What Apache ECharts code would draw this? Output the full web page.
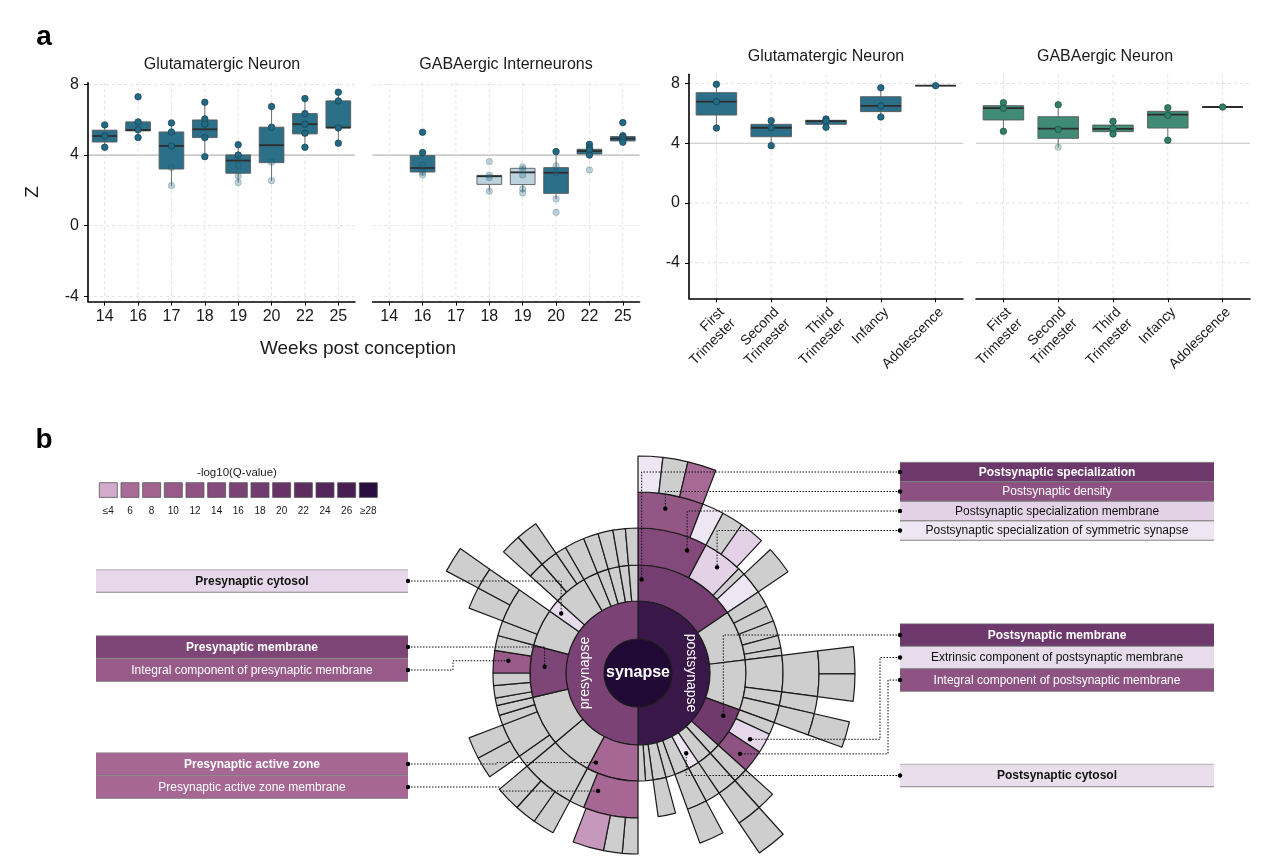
<!DOCTYPE html>
<html>
<head>
<meta charset="utf-8">
<script src="https://cdn.jsdelivr.net/npm/echarts/dist/echarts.min.js"></script>
<style>html,body{margin:0;padding:0;background:#fff}#c{width:1270px;height:863px}</style>
</head>
<body>
<div id="c"></div>
<script>
// ================= DATA: panel a =================
const weeks = ['14', '16', '17', '18', '19', '20', '22', '25'];
// [min, Q1, median, Q3, max]
const glutWeekBox = [
  [4.44, 4.74, 5.08, 5.41, 5.71],
  [4.99, 5.37, 5.42, 5.88, 5.88],
  [2.27, 3.21, 4.52, 5.31, 5.82],
  [3.91, 4.99, 5.46, 5.99, 6.99],
  [2.44, 2.97, 3.69, 4.01, 4.59],
  [2.55, 3.57, 4.56, 5.58, 6.75],
  [4.44, 5.20, 5.75, 6.35, 7.20],
  [4.67, 5.54, 5.56, 7.07, 7.56]
];
const glutWeekPts = [
  [5.71, 5.08, 4.44],
  [7.30, 5.88, 5.43, 4.99],
  [5.82, 5.31, 4.52, 3.29, 2.27],
  [6.99, 6.05, 5.75, 4.99, 3.91],
  [4.59, 4.00, 3.42, 2.82, 2.44],
  [6.75, 5.58, 3.59, 2.55],
  [7.20, 6.35, 5.75, 5.24, 4.44],
  [7.56, 7.07, 5.54, 4.67]
];
const gabaWeekBox = [
  null,
  [2.87, 3.04, 3.27, 3.97, 4.14],
  null,
  [1.95, 2.34, 2.80, 2.85, 2.85],
  [1.93, 2.33, 3.02, 3.25, 3.33],
  [1.51, 1.83, 3.00, 3.29, 4.20],
  [4.00, 4.06, 4.23, 4.33, 4.61],
  [4.73, 4.80, 4.93, 5.05, 5.10]
];
const gabaWeekPts = [
  [],
  [5.29, 4.14, 3.42, 3.02, 2.87],
  [],
  [3.63, 2.87, 2.72, 1.95],
  [3.33, 3.21, 2.87, 2.08, 1.85],
  [4.20, 3.38, 3.00, 1.51, 0.76],
  [4.61, 4.42, 4.29, 4.00, 3.16],
  [5.84, 5.10, 4.99, 4.86, 4.73]
];
const gabaWeekLight = [0, 0, 0, 1, 1, 0, 0, 0];

const stages = ['First\nTrimester', 'Second\nTrimester', 'Third\nTrimester', 'Infancy', 'Adolescence'];
const glutStageBox = [
  [5.02, 5.89, 6.79, 7.39, 7.95],
  [3.84, 4.44, 5.04, 5.27, 5.51],
  [5.07, 5.27, 5.49, 5.54, 5.63],
  [5.76, 6.12, 6.50, 7.12, 7.72],
  [7.86, 7.86, 7.86, 7.86, 7.86]
];
const glutStagePts = [
  [7.95, 6.79, 5.02],
  [5.51, 5.04, 3.84],
  [5.63, 5.49, 5.07],
  [7.72, 6.50, 5.76],
  [7.86]
];
const gabaStageBox = [
  [4.80, 5.56, 6.36, 6.52, 6.72],
  [3.73, 4.33, 4.98, 5.78, 6.58],
  [4.62, 4.78, 4.96, 5.22, 5.47],
  [4.20, 5.02, 5.92, 6.14, 6.38],
  [6.43, 6.43, 6.43, 6.43, 6.43]
];
const gabaStagePts = [
  [6.72, 6.34, 4.80],
  [6.58, 4.93, 3.73],
  [5.47, 5.00, 4.62],
  [6.38, 5.87, 4.20],
  [6.43]
];
const zTicks = [-4, 0, 4, 8];
const zRef = 4;

// ================= DATA: panel b (sunburst) =================
const sbName = [
  'synapse', 'postsynapse', 'Postsynaptic specialization', 'Postsynaptic specialization membrane', 'Postsynaptic density', '', '', '', '',
  'Postsynaptic specialization of symmetric synapse', '', '', '', '', '',
  '', '', '', '', '', '',
  '', '', '', '', '', '', '', '', '', '',
  'Postsynaptic membrane', '', 'Extrinsic component of postsynaptic membrane', 'Integral component of postsynaptic membrane',
  '', '', '', '', '', '', '', 'Postsynaptic cytosol', '', '', '', '', '', '', '', '', '',
  'presynapse', 'Presynaptic active zone', 'Presynaptic active zone membrane', '', '', '', '',
  '', '', '', '', '',
  '', '', '', '', '', '', '',
  'Presynaptic membrane', '', '', '', 'Integral component of presynaptic membrane', '',
  '', '', '', '', '', '',
  'Presynaptic cytosol', '', '', '', '', '', '',
  '', '', '', '', '', '', '', '', '', ''
];
const sbParent = [
  -1, 0, 1, 2, 3, 4, 4, 4, 3,
  2, 9, 9, 2, 2, 13,
  1, 15, 15, 15, 15, 15,
  1, 21, 22, 23, 23, 21, 26, 21, 28, 29,
  1, 31, 31, 31,
  1, 35, 36, 1, 38, 39, 40, 1, 42, 1, 44, 45, 1, 1, 48, 1, 1,
  0, 52, 53, 54, 54, 54, 53,
  52, 59, 60, 60, 60,
  52, 64, 64, 66, 66, 64, 64,
  52, 71, 71, 71, 71, 71,
  52, 77, 77, 79, 79, 81,
  52, 52, 84, 85, 84, 87, 84,
  52, 90, 52, 92, 52, 94, 52, 96, 52, 98
];
const sbValue = [
  360, 180, 56, 28, 21, 6.6, 6.7, 7.7, 7,
  16, 7, 8, 3, 9, 9,
  27, 6.6, 6.4, 6, 5, 3,
  27, 14.5, 14.5, 7.25, 7.25, 5.5, 5.5, 7, 7, 7,
  22, 5, 8, 9,
  6, 6, 6, 8, 8, 8, 8, 6, 6, 8, 8, 8, 5, 7, 7, 4, 4,
  180, 28, 22, 5, 6, 10, 6,
  22, 22, 7, 7, 8,
  27, 5, 14, 7, 7, 4, 4,
  28, 3, 5, 5, 9, 6,
  20, 6, 14, 7, 7, 7,
  7, 18, 6.6, 6.6, 7, 7, 4.4,
  8, 8, 6, 6, 6, 6, 5, 5, 5, 5
];
// -log10(Q-value); null = not significant (grey)
const sbQ = [
  30, 27, 17.5, 14.5, 11, 1.3, null, 6.5, 1.3,
  2.3, null, 2.3, null, 1.3, null,
  null, null, null, null, null, null,
  null, null, null, null, null, null, null, null, null, null,
  18.5, null, 2, 12,
  null, null, null, null, null, null, null, 1.3, null, null, null, null, null, null, null, null, null,
  16, 7, 7, null, null, 4.6, null,
  null, null, null, null, null,
  null, null, null, null, null, null, null,
  15.5, null, null, null, 10, null,
  null, null, null, null, null, null,
  1.8, null, null, null, null, null, null,
  null, null, null, null, null, null, null, null, null, null
];
const legendQ = [4, 6, 8, 10, 12, 14, 16, 18, 20, 22, 24, 26, 28];
const legendLabels = ['≤4', '6', '8', '10', '12', '14', '16', '18', '20', '22', '24', '26', '≥28'];

const lblText = [
  'Postsynaptic specialization', 'Postsynaptic density', 'Postsynaptic specialization membrane',
  'Postsynaptic specialization of symmetric synapse', 'Postsynaptic membrane',
  'Extrinsic component of postsynaptic membrane', 'Integral component of postsynaptic membrane',
  'Postsynaptic cytosol', 'Presynaptic cytosol', 'Presynaptic membrane',
  'Integral component of presynaptic membrane', 'Presynaptic active zone', 'Presynaptic active zone membrane'
];
const lblNode = [2, 4, 3, 9, 31, 33, 34, 42, 83, 71, 75, 53, 54];
const lblQ = [19, 12.5, 2.3, 1.3, 19, 1.8, 12, 1.7, 2, 15.5, 10, 7, 7];
const lblBold = [1, 0, 0, 0, 1, 0, 0, 1, 1, 1, 0, 1, 0];

// ================= STYLE / LAYOUT =================
const FONT = '"Liberation Sans", Arial, Helvetica, sans-serif';
const GREY = '#CECECE';
const FADE = 3.8;
const SB_CX = 638, SB_CY = 673;
const RINGS = [0, 34, 72, 108, 145, 181, 217];
const lblSide = ['R', 'R', 'R', 'R', 'R', 'R', 'R', 'R', 'L', 'L', 'L', 'L', 'L'];
const lblCY = [472, 491.5, 511, 530.5, 635, 657.5, 680, 775.5, 581, 647, 670, 764, 787];
const lblH = [19.5, 19.5, 19.5, 19.5, 22.5, 22.5, 22.5, 22.5, 22.5, 22.5, 22.5, 22.5, 22.5];
const lblAF = [0.04, 0.45, 0.78, 0.55, 0.3, 0.7, 0.6, 0.5, 0.4, 0.6, 0.6, 0.9, 0.85];
const lblRF = [0.6, 0.6, 0.65, 0.65, 0.65, 0.6, 0.6, 0.6, 0.7, 0.6, 0.6, 0.75, 0.45];
const lblElbow = [null, null, null, null, null, 880, 888, null, null, null, 453, 497, 500];

const qStops = [1, 2, 3, 4, 6, 8, 10, 12, 14, 16, 18, 20, 22, 24, 26, 28, 30];
const qHex = ['#F2ECF5', '#E6D8EA', '#DCC3DD', '#D2ABCB', '#A96B97', '#A26390', '#985B89', '#8E5383',
  '#854B7C', '#7B4375', '#723C6E', '#683467', '#5E2D60', '#532659', '#471F51', '#2A0E40', '#200935'];
function hexToRgb(h) { return [1, 3, 5].map(i => parseInt(h.substr(i, 2), 16)); }
function qColor(q) {
  if (q <= qStops[0]) return qHex[0];
  for (let i = 1; i < qStops.length; i++) {
    if (q <= qStops[i]) {
      const t = (q - qStops[i - 1]) / (qStops[i] - qStops[i - 1]);
      const a = hexToRgb(qHex[i - 1]), b = hexToRgb(qHex[i]);
      return 'rgb(' + a.map((v, k) => Math.round(v + (b[k] - v) * t)).join(',') + ')';
    }
  }
  return qHex[qHex.length - 1];
}

// ---------- panel a helpers ----------
const grids = [
  {left: 88, top: 82.7, width: 267, height: 218.9},
  {left: 372.5, top: 82.7, width: 267, height: 218.9},
  {left: 689, top: 74.3, width: 274, height: 224},
  {left: 976, top: 74.3, width: 274, height: 224}
];
const yRange = [[-4.3, 8.1], [-4.3, 8.1], [-6.38, 8.62], [-6.38, 8.62]];
const cats = [weeks, weeks, stages, stages];

function gridLineSeries(gi) {
  const data = [];
  zTicks.forEach(v => data.push([0, v, 0]));
  cats[gi].forEach((c, i) => data.push([i, 0, 1]));
  return {
    type: 'custom', xAxisIndex: gi, yAxisIndex: gi, z: 0, silent: true, data,
    renderItem(params, api) {
      const cs = params.coordSys;
      if (api.value(2) === 0) {
        const v = api.value(1);
        const y = api.coord([0, v])[1];
        const st = v === zRef ? {stroke: gi < 2 ? '#A5A5A5' : '#C4C4C4', lineWidth: 1}
                              : {stroke: '#DADADA', lineWidth: 0.8, lineDash: [3, 3]};
        return {type: 'line', shape: {x1: cs.x, y1: y, x2: cs.x + cs.width, y2: y}, style: st};
      }
      const x = api.coord([api.value(0), 0])[0];
      return {type: 'line', shape: {x1: x, y1: cs.y, x2: x, y2: cs.y + cs.height},
        style: {stroke: '#DADADA', lineWidth: 0.8, lineDash: [3, 3]}};
    }
  };
}
function boxSeries(gi, rows, light, fill, lightFill) {
  const data = [];
  rows.forEach((r, i) => { if (r) data.push([i, r[0], r[1], r[2], r[3], r[4], light ? light[i] : 0]); });
  return {
    type: 'custom', xAxisIndex: gi, yAxisIndex: gi, z: 2, silent: true,
    encode: {x: 0, y: [1, 2, 3, 4, 5]}, data,
    renderItem(params, api) {
      const i = api.value(0);
      const pMin = api.coord([i, api.value(1)]), pQ1 = api.coord([i, api.value(2)]);
      const pMed = api.coord([i, api.value(3)]), pQ3 = api.coord([i, api.value(4)]);
      const pMax = api.coord([i, api.value(5)]);
      const w = api.size([1, 0])[0] * 0.74;
      const cx = pMed[0];
      const isLight = api.value(6) === 1;
      return {type: 'group', children: [
        {type: 'line', shape: {x1: cx, y1: pQ3[1], x2: cx, y2: pMax[1]}, style: {stroke: '#6d6d6d', lineWidth: 1}},
        {type: 'line', shape: {x1: cx, y1: pQ1[1], x2: cx, y2: pMin[1]}, style: {stroke: '#6d6d6d', lineWidth: 1}},
        {type: 'rect', shape: {x: cx - w / 2, y: pQ3[1], width: w, height: Math.max(pQ1[1] - pQ3[1], 0)},
          style: {fill: isLight ? lightFill : fill, stroke: '#5a5a5a', lineWidth: 0.9}},
        {type: 'line', shape: {x1: cx - w / 2, y1: pMed[1], x2: cx + w / 2, y2: pMed[1]}, style: {stroke: '#2d2d2d', lineWidth: 1.8}}
      ]};
    }
  };
}
function pointSeries(gi, pts, color, edge) {
  const data = [];
  pts.forEach((list, i) => list.forEach(v => data.push({value: [i, v], itemStyle: {opacity: v < FADE ? 0.3 : 1}})));
  return {type: 'scatter', xAxisIndex: gi, yAxisIndex: gi, z: 3, symbolSize: 6.5, silent: true,
    itemStyle: {color: color, borderColor: edge, borderWidth: 0.7}, data};
}
function xAxisCfg(gi) {
  const rotated = gi >= 2;
  return {
    type: 'category', gridIndex: gi, data: cats[gi], boundaryGap: true,
    axisLine: {show: true, onZero: false, lineStyle: {color: '#000', width: 1.6}},
    axisTick: {show: true, alignWithLabel: true, length: 4, lineStyle: {color: '#000', width: 1}},
    axisLabel: rotated
      ? {rotate: 45, interval: 0, fontSize: 14, lineHeight: 16, color: '#1a1a1a', margin: 6,
         align: 'right', verticalAlign: 'top', fontFamily: FONT}
      : {interval: 0, fontSize: 16, color: '#1a1a1a', margin: 7, fontFamily: FONT},
    splitLine: {show: false}
  };
}
function yAxisCfg(gi) {
  const showAxis = gi === 0 || gi === 2;
  return {
    type: 'value', gridIndex: gi, min: yRange[gi][0], max: yRange[gi][1],
    axisLine: {show: showAxis, onZero: false, lineStyle: {color: '#000', width: 1.6}},
    axisTick: {show: showAxis, length: 4, customValues: zTicks, lineStyle: {color: '#000'}},
    axisLabel: {show: showAxis, customValues: zTicks, fontSize: 16, color: '#1a1a1a', margin: 9, fontFamily: FONT},
    splitLine: {show: false}
  };
}

// ---------- sunburst tree ----------
function buildTree() {
  const nodes = sbName.map((n, i) => ({
    name: n, value: sbValue[i],
    itemStyle: {color: sbQ[i] == null ? GREY : qColor(sbQ[i])},
    children: []
  }));
  let root = null;
  sbParent.forEach((p, i) => { if (p < 0) root = nodes[i]; else nodes[p].children.push(nodes[i]); });
  nodes.forEach(n => { if (!n.children.length) delete n.children; });
  nodes[0].label = {show: true, rotate: 0, fontSize: 16, fontWeight: 'bold', color: '#fff', fontFamily: FONT};
  nodes[1].label = {show: true, rotate: -90, fontSize: 14, color: '#fff', fontFamily: FONT};
  nodes[52].label = {show: true, rotate: 90, fontSize: 14, color: '#fff', fontFamily: FONT};
  return root;
}
// node angular start/depth (degrees clockwise from 12 o'clock), derived from values
const sbStart = [], sbDepth = [];
(function () {
  const acc = {};
  for (let i = 0; i < sbName.length; i++) {
    const p = sbParent[i];
    if (p < 0) { sbStart[i] = 0; sbDepth[i] = 0; continue; }
    const off = acc[p] || 0;
    sbStart[i] = sbStart[p] + off;
    acc[p] = off + sbValue[i];
    sbDepth[i] = sbDepth[p] + 1;
  }
})();

// ---------- graphic ----------
const G = [];
function txt(x, y, text, size, opts) {
  opts = opts || {};
  G.push({type: 'text', x: x, y: y, rotation: opts.rot || 0, z: 100, silent: true,
    style: {text: text, fontSize: size, fontFamily: FONT, fontWeight: opts.bold ? 'bold' : 'normal',
      fill: opts.color || '#1a1a1a', align: opts.align || 'center', verticalAlign: 'middle'}});
}
txt(44, 37, 'a', 28, {bold: true, color: '#000'});
txt(44, 440, 'b', 28, {bold: true, color: '#000'});
txt(222, 65, 'Glutamatergic Neuron', 16);
txt(506, 65, 'GABAergic Interneurons', 16);
txt(826, 57, 'Glutamatergic Neuron', 16);
txt(1105, 57, 'GABAergic Neuron', 16);
txt(358, 349, 'Weeks post conception', 19);
txt(33, 192, 'Z', 19, {rot: Math.PI / 2});
txt(237, 473, '-log10(Q-value)', 11.5);
legendQ.forEach((q, k) => {
  G.push({type: 'rect', z: 100, silent: true, shape: {x: 99.3 + 21.67 * k, y: 482.7, width: 18, height: 14.7},
    style: {fill: qColor(q), stroke: '#555', lineWidth: 0.8}});
  txt(108.3 + 21.67 * k, 511, legendLabels[k], 10);
});
lblText.forEach((t, k) => {
  const right = lblSide[k] === 'R';
  const bx = right ? 900 : 96, bw = right ? 314 : 312;
  const h = lblH[k], cy = lblCY[k], top = cy - h / 2;
  const dark = lblQ[k] > 5;
  G.push({type: 'rect', z: 90, silent: true, shape: {x: bx, y: top, width: bw, height: h}, style: {fill: qColor(lblQ[k])}});
  G.push({type: 'line', z: 91, silent: true, shape: {x1: bx, y1: top + h, x2: bx + bw, y2: top + h}, style: {stroke: '#6a6a6a', lineWidth: 0.8}});
  G.push({type: 'line', z: 91, silent: true, shape: {x1: bx, y1: top, x2: bx + bw, y2: top}, style: {stroke: '#8a8a8a', lineWidth: 0.6}});
  txt(bx + bw / 2, cy + 0.5, t, 12, {bold: !!lblBold[k], color: dark ? '#fff' : '#111'});
  // leader line to the sunburst cell
  const n = lblNode[k];
  const th = (sbStart[n] + lblAF[k] * sbValue[n]) * Math.PI / 180;
  const d = sbDepth[n];
  const r = RINGS[d] + lblRF[k] * (RINGS[d + 1] - RINGS[d]);
  const px = SB_CX + r * Math.sin(th), py = SB_CY - r * Math.cos(th);
  const ex = right ? bx : bx + bw;
  const pts = [[ex, cy]];
  if (lblElbow[k] != null) { pts.push([lblElbow[k], cy], [lblElbow[k], py], [px, py]); }
  else { pts.push([px, cy], [px, py]); }
  G.push({type: 'polyline', z: 95, silent: true, shape: {points: pts},
    style: {stroke: '#111', lineWidth: 1, lineDash: [1.5, 1.5], fill: null}});
  G.push({type: 'circle', z: 96, silent: true, shape: {cx: px, cy: py, r: 2.2}, style: {fill: '#000'}});
  G.push({type: 'circle', z: 96, silent: true, shape: {cx: ex, cy: cy, r: 2.2}, style: {fill: '#000'}});
});

// ---------- option ----------
const series = [];
[0, 1, 2, 3].forEach(gi => series.push(gridLineSeries(gi)));
series.push(boxSeries(0, glutWeekBox, null, '#2B6F88', '#BCD3DE'));
series.push(boxSeries(1, gabaWeekBox, gabaWeekLight, '#2B6F88', '#BCD3DE'));
series.push(boxSeries(2, glutStageBox, null, '#2B6F88', '#BCD3DE'));
series.push(boxSeries(3, gabaStageBox, null, '#3F8B76', '#BCD3DE'));
series.push(pointSeries(0, glutWeekPts, '#226A84', '#163F50'));
series.push(pointSeries(1, gabaWeekPts, '#226A84', '#163F50'));
series.push(pointSeries(2, glutStagePts, '#226A84', '#163F50'));
series.push(pointSeries(3, gabaStagePts, '#2F7E66', '#1D4F40'));
series.push({
  type: 'sunburst', center: [SB_CX, SB_CY], radius: [0, 217], sort: null, nodeClick: false,
  startAngle: 90, clockwise: true, emphasis: {focus: 'none'},
  itemStyle: {borderColor: '#1b1b1b', borderWidth: 1.2},
  label: {show: false},
  levels: [{}, {r0: 0, r: 34}, {r0: 34, r: 72}, {r0: 72, r: 108}, {r0: 108, r: 145}, {r0: 145, r: 181}, {r0: 181, r: 217}],
  data: [buildTree()]
});

const chart = echarts.init(document.getElementById('c'), null, {width: 1270, height: 863});
chart.setOption({
  animation: false,
  backgroundColor: '#fff',
  textStyle: {fontFamily: FONT},
  grid: grids,
  xAxis: [0, 1, 2, 3].map(xAxisCfg),
  yAxis: [0, 1, 2, 3].map(yAxisCfg),
  series: series,
  graphic: {elements: G}
});
</script>
</body>
</html>
